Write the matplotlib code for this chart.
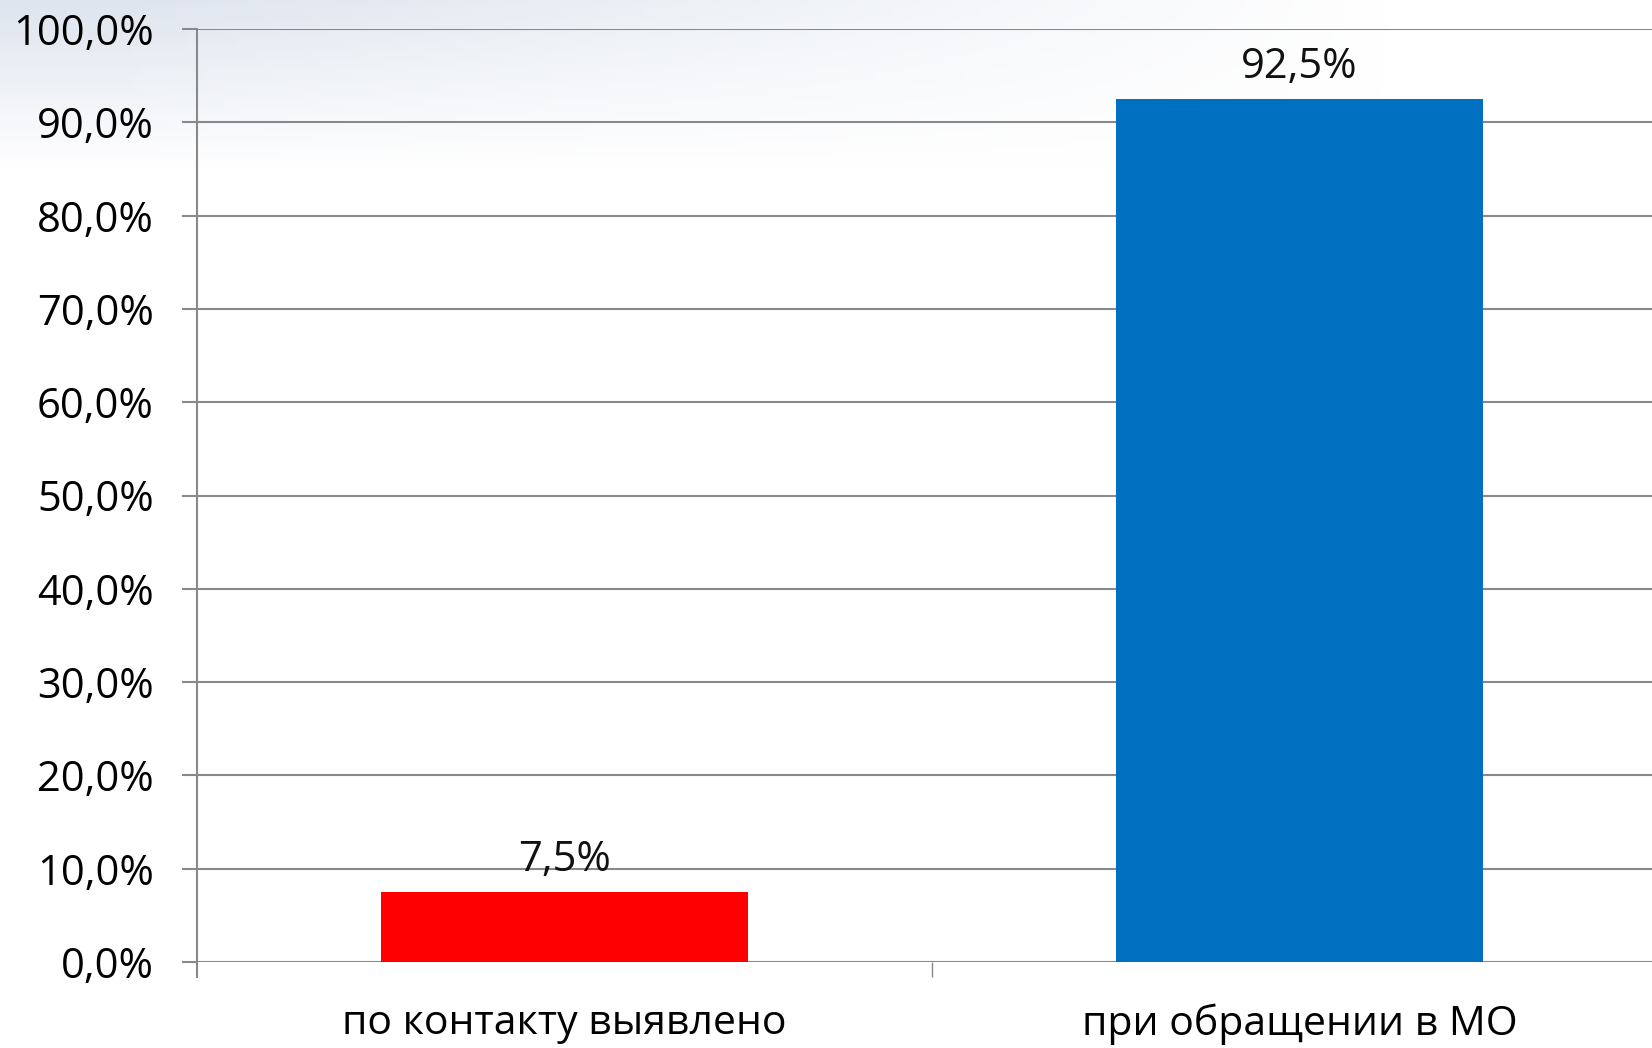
import numpy as np
import matplotlib.pyplot as plt
from matplotlib.ticker import FuncFormatter

plt.rcParams['font.family'] = ['Open Sans', 'DejaVu Sans']

categories = ['по контакту выявлено', 'при обращении в МО']
values = [7.5, 92.5]
bar_colors = ['#FF0000', '#0070C0']
label_texts = ['7,5%', '92,5%']

fig = plt.figure(figsize=(16.52, 10.48), dpi=100)

# slide background: light grey-blue haze in the upper left
bg = fig.add_axes([0, 0, 1, 1], zorder=-10)
yy, xx = np.mgrid[0:1:200j, 0:1:300j]
haze = np.clip((yy - 0.84) / 0.16, 0, 1) * np.clip(1.1 - xx * 1.3, 0, 1)
rgba = np.zeros((200, 300, 4))
rgba[..., 0] = 0.86
rgba[..., 1] = 0.89
rgba[..., 2] = 0.93
rgba[..., 3] = haze * 0.9
bg.imshow(rgba, extent=[0, 1, 0, 1], origin='lower', aspect='auto')
bg.set_axis_off()

ax = fig.add_axes([197 / 1652, 86 / 1048, 1470 / 1652, 933 / 1048])
ax.patch.set_alpha(0)

x = np.arange(len(categories))
ax.bar(x, values, width=0.5, color=bar_colors, zorder=3)

for xi, v, t in zip(x, values, label_texts):
    ax.annotate(t, (xi, v), xytext=(0, 8), textcoords='offset points',
                ha='center', va='bottom', fontsize=30, color='#111111')

ax.set_xlim(-0.5, 1.5)
ax.set_ylim(0, 100)
ax.set_yticks(np.arange(0, 101, 10))
ax.yaxis.set_major_formatter(FuncFormatter(lambda v, p: f'{v:.1f}%'.replace('.', ',')))
ax.grid(axis='y', color='#898989', linewidth=1.5, zorder=0)

ax.set_xticks(x)
ax.set_xticklabels(categories)
ax.tick_params(axis='x', which='major', length=0, labelsize=29.5, pad=30)
ax.set_xticks([0.5], minor=True)
ax.tick_params(axis='x', which='minor', length=11, width=1, color='#898989')
ax.tick_params(axis='y', length=11, width=1.5, color='#898989', labelsize=30, pad=20)

for s in ['top', 'right', 'bottom']:
    ax.spines[s].set_visible(False)
ax.spines['left'].set_color('#898989')
ax.spines['left'].set_linewidth(1.5)
ax.spines['left'].set_bounds(-1.6, 100)

fig.savefig('out.png', dpi=100)
